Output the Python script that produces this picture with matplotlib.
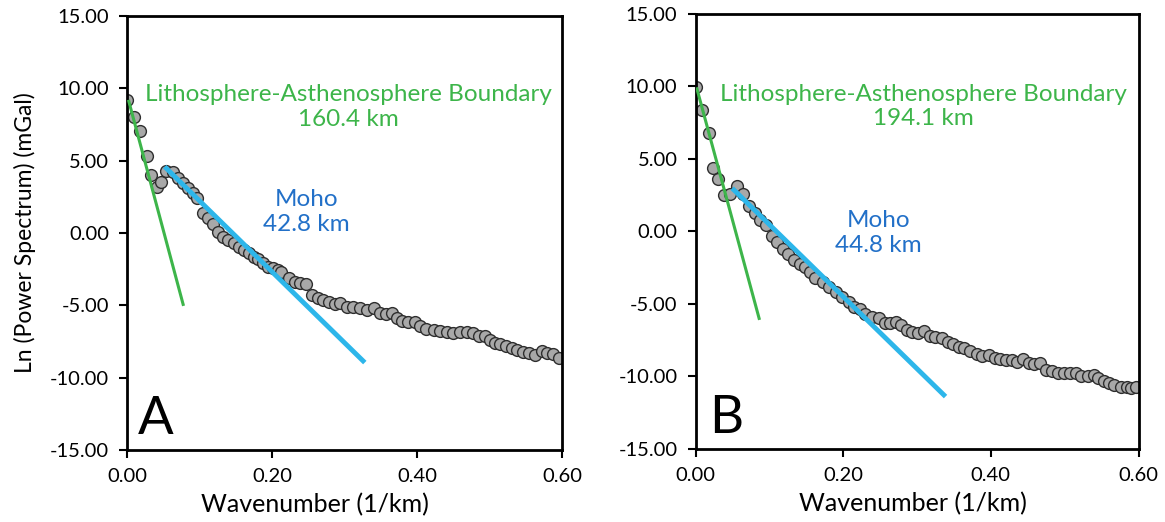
import matplotlib
matplotlib.use("Agg")
import matplotlib.pyplot as plt
from matplotlib.ticker import FormatStrFormatter

plt.rcParams['font.family'] = ['Lato', 'DejaVu Sans']

# ---- Panel A data ----
A_x = [0.000, 0.009, 0.018, 0.027, 0.033, 0.042, 0.047, 0.054, 0.064, 0.070, 0.077, 0.084, 0.091, 0.097,
       0.105, 0.112, 0.119, 0.126, 0.133, 0.140, 0.147, 0.154, 0.161, 0.168, 0.175, 0.181, 0.188, 0.195,
       0.202, 0.208, 0.213, 0.223, 0.232, 0.239, 0.247, 0.255, 0.264, 0.271, 0.279, 0.287, 0.294, 0.303,
       0.312, 0.321, 0.331, 0.341, 0.349, 0.357, 0.365, 0.372, 0.379, 0.388, 0.397, 0.404, 0.413, 0.423,
       0.432, 0.441, 0.450, 0.459, 0.469, 0.477, 0.485, 0.494, 0.501, 0.508, 0.514, 0.523, 0.531, 0.538,
       0.546, 0.554, 0.563, 0.572, 0.579, 0.587, 0.596]
A_y = [9.2, 8.0, 7.07, 5.33, 4.01, 3.2, 3.5, 4.3, 4.2, 3.78, 3.44, 3.09, 2.75, 2.4,
       1.36, 1.02, 0.63, 0.09, -0.25, -0.48, -0.71, -0.94, -1.17, -1.36, -1.63, -1.82, -2.09, -2.33,
       -2.44, -2.55, -2.67, -3.13, -3.36, -3.47, -3.52, -4.28, -4.51, -4.63, -4.74, -4.9, -4.81, -5.09,
       -5.13, -5.2, -5.32, -5.2, -5.55, -5.59, -5.55, -5.89, -6.08, -6.13, -6.13, -6.42, -6.63, -6.70,
       -6.75, -6.82, -6.93, -6.82, -6.82, -6.93, -7.12, -7.12, -7.39, -7.62, -7.69, -7.81, -7.97, -8.08,
       -8.2, -8.31, -8.43, -8.13, -8.31, -8.36, -8.66]
A_lab_x = [0.002, 0.078]
A_lab_y = [9.2, -5.04]
A_moho_x = [0.052, 0.328]
A_moho_y = [4.58, -8.96]
A_lab_text = "Lithosphere-Asthenosphere Boundary\n160.4 km"
A_moho_text = "Moho\n42.8 km"

# ---- Panel B data ----
B_x = [0.001, 0.009, 0.018, 0.024, 0.031, 0.039, 0.047, 0.056, 0.064, 0.072, 0.080, 0.087, 0.095, 0.104,
       0.111, 0.118, 0.125, 0.133, 0.141, 0.148, 0.155, 0.162, 0.172, 0.181, 0.190, 0.199, 0.208, 0.214,
       0.223, 0.230, 0.239, 0.248, 0.256, 0.264, 0.271, 0.278, 0.286, 0.293, 0.301, 0.310, 0.317, 0.325,
       0.334, 0.342, 0.349, 0.357, 0.364, 0.372, 0.381, 0.388, 0.397, 0.405, 0.412, 0.420, 0.428, 0.436,
       0.444, 0.451, 0.458, 0.466, 0.475, 0.483, 0.491, 0.499, 0.507, 0.515, 0.522, 0.531, 0.539, 0.545,
       0.553, 0.560, 0.567, 0.576, 0.584, 0.590, 0.597]
B_y = [9.94, 8.4, 6.78, 4.4, 3.65, 2.53, 2.58, 3.13, 2.56, 1.78, 1.25, 0.79, 0.45, -0.3,
       -0.75, -1.2, -1.58, -1.95, -2.25, -2.43, -2.77, -3.2, -3.46, -3.81, -4.15, -4.5, -4.84, -5.19,
       -5.37, -5.71, -5.88, -5.94, -6.29, -6.29, -6.22, -6.45, -6.79, -6.91, -6.98, -6.86, -7.21, -7.30,
       -7.37, -7.60, -7.78, -7.95, -8.06, -8.24, -8.45, -8.59, -8.52, -8.75, -8.81, -8.86, -8.86, -8.98,
       -8.81, -9.09, -9.14, -9.09, -9.55, -9.6, -9.78, -9.78, -9.78, -9.74, -9.97, -9.97, -9.9, -10.13,
       -10.29, -10.43, -10.59, -10.7, -10.75, -10.82, -10.75]
B_lab_x = [0.0014, 0.0867]
B_lab_y = [9.94, -6.1]
B_moho_x = [0.0497, 0.3386]
B_moho_y = [2.98, -11.39]
B_lab_text = "Lithosphere-Asthenosphere Boundary\n194.1 km"
B_moho_text = "Moho\n44.8 km"

x_ticks = [0.0, 0.2, 0.4, 0.6]
y_ticks = [-15, -10, -5, 0, 5, 10, 15]

GREEN = '#3DB54A'
BLUE_LINE = '#2DB6EA'
BLUE_TEXT = '#2270C8'

fig = plt.figure(figsize=(11.65, 5.22), dpi=100)
axA = fig.add_axes([0.109, 0.138, 0.3734, 0.8314])
axB = fig.add_axes([0.597, 0.140, 0.3803, 0.8332])

panels = [
    (axA, A_x, A_y, A_lab_x, A_lab_y, A_moho_x, A_moho_y, A_lab_text, A_moho_text,
     (0.305, 8.7), (0.248, 1.45), 'A', 0.025, 0.432),
    (axB, B_x, B_y, B_lab_x, B_lab_y, B_moho_x, B_moho_y, B_lab_text, B_moho_text,
     (0.309, 8.6), (0.248, -0.1), 'B', 0.03, 0.49),
]

for (ax, xs, ys, lx, ly, mx, my, ltxt, mtxt, lpos, mpos, letter, lxpos, xlab_pos) in panels:
    ax.plot(xs, ys, linestyle='none', marker='o', markersize=8.5,
            markerfacecolor='#A8A8A8', markeredgecolor='#2E2E2E', markeredgewidth=1.0, zorder=2)
    ax.plot(lx, ly, color=GREEN, linewidth=2.2, zorder=3, solid_capstyle='butt')
    ax.plot(mx, my, color=BLUE_LINE, linewidth=3.5, zorder=3, solid_capstyle='butt')
    ax.text(lpos[0], lpos[1], ltxt, color=GREEN, fontsize=17.5, ha='center', va='center',
            linespacing=1.2)
    ax.text(mpos[0], mpos[1], mtxt, color=BLUE_TEXT, fontsize=17.5, ha='center', va='center',
            linespacing=1.2)
    ax.text(lxpos, 0.015, letter, transform=ax.transAxes, fontsize=38, ha='left', va='bottom',
            color='black')
    ax.set_xlim(0, 0.6)
    ax.set_ylim(-15, 15)
    ax.set_xticks(x_ticks)
    ax.set_yticks(y_ticks)
    ax.xaxis.set_major_formatter(FormatStrFormatter('%.2f'))
    ax.yaxis.set_major_formatter(FormatStrFormatter('%.2f'))
    ax.tick_params(direction='out', length=6, width=1.5, labelsize=14.5, pad=7)
    for s in ax.spines.values():
        s.set_linewidth(2)
        s.set_color('black')
    ax.set_xlabel('Wavenumber (1/km)', fontsize=18)
    ax.xaxis.set_label_coords(xlab_pos, -0.1)

axA.set_ylabel('Ln (Power Spectrum) (mGal)', fontsize=16.5, labelpad=10)

fig.savefig('out.png', dpi=100)
